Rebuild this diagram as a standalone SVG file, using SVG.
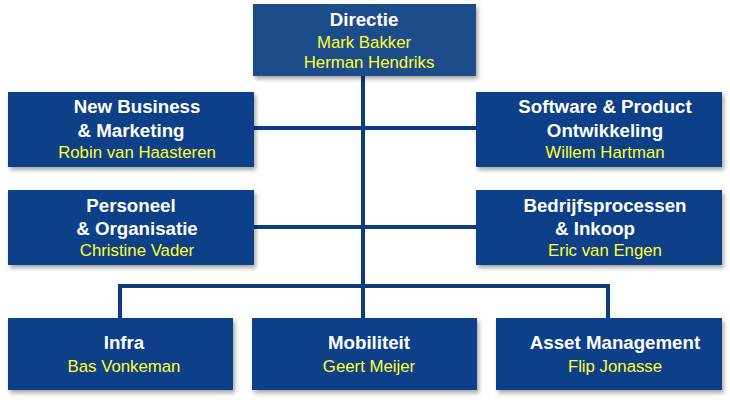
<svg xmlns="http://www.w3.org/2000/svg" width="730" height="402" viewBox="0 0 730 402">
<style>
.b{fill:#0c3f88;filter:url(#s)}
.t{font-family:"Liberation Sans",Arial,sans-serif;font-weight:bold;font-size:18.7px;fill:#fff;text-anchor:middle}
.n{font-family:"Liberation Sans",Arial,sans-serif;font-size:16.8px;fill:#ffff33;text-anchor:middle}
.c{stroke:#0c3b7e;stroke-width:4;fill:none}
</style>
<defs><filter id="s" x="-5%" y="-5%" width="115%" height="125%"><feDropShadow dx="2" dy="3" stdDeviation="2" flood-color="#000" flood-opacity="0.35"/></filter></defs>
<rect width="730" height="402" fill="#fff"/>
<g id="connectors">
<path class="c" d="M363 76V286M254 128H476M254 227H476M120 318V286H608V318M363 286V318"/>
</g>
<g id="directie"><rect class="b" x="253" y="4" width="223" height="72" style="fill:#1e4d8a"/><text class="t" x="364" y="26">Directie</text><text class="n" x="364" y="48">Mark Bakker</text><text class="n" x="369" y="68">Herman Hendriks</text></g>
<g id="newbusiness"><rect class="b" x="8" y="92" width="246" height="75"/><text class="t" x="137" y="113">New Business</text><text class="t" x="131" y="137">&amp; Marketing</text><text class="n" x="137" y="158">Robin van Haasteren</text></g>
<g id="software"><rect class="b" x="476" y="92" width="246" height="75"/><text class="t" x="605" y="113">Software &amp; Product</text><text class="t" x="605" y="137">Ontwikkeling</text><text class="n" x="605" y="158">Willem Hartman</text></g>
<g id="personeel"><rect class="b" x="8" y="190" width="246" height="75"/><text class="t" x="131" y="212">Personeel</text><text class="t" x="137" y="235">&amp; Organisatie</text><text class="n" x="137" y="256">Christine Vader</text></g>
<g id="bedrijf"><rect class="b" x="476" y="190" width="246" height="75"/><text class="t" x="605" y="212">Bedrijfsprocessen</text><text class="t" x="595" y="235">&amp; Inkoop</text><text class="n" x="605" y="256">Eric van Engen</text></g>
<g id="infra"><rect class="b" x="8" y="318" width="225" height="72"/><text class="t" x="124" y="349">Infra</text><text class="n" x="124" y="372">Bas Vonkeman</text></g>
<g id="mobiliteit"><rect class="b" x="252" y="318" width="225" height="72"/><text class="t" x="369" y="349">Mobiliteit</text><text class="n" x="369" y="372">Geert Meijer</text></g>
<g id="asset"><rect class="b" x="496" y="318" width="226" height="72"/><text class="t" x="615" y="349">Asset Management</text><text class="n" x="615" y="372">Flip Jonasse</text></g>
</svg>
